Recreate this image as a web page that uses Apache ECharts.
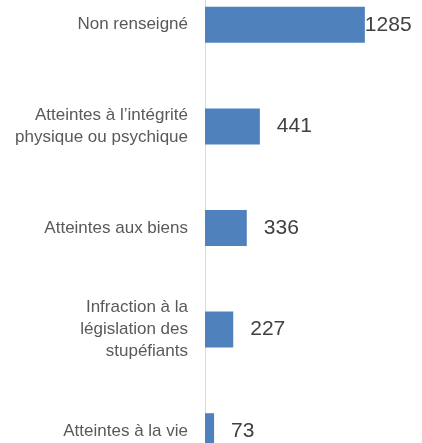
<!DOCTYPE html>
<html>
<head>
<meta charset="utf-8">
<script src="https://cdn.jsdelivr.net/npm/echarts@6/dist/echarts.min.js"></script>
<style>
  html, body { margin: 0; padding: 0; background: #fff; }
  #chart { width: 422px; height: 443px; }
</style>
</head>
<body>
<div id="chart"></div>
<script>
// catégories, de haut en bas
var categories = [
  'Non renseigné',
  'Atteintes à l’intégrité\nphysique ou psychique',
  'Atteintes aux biens',
  'Infraction à la\nlégislation des\nstupéfiants',
  'Atteintes à la vie'
]
var values = [1285, 441, 336, 227, 73]

var xMax = 1680
var gridLeft = 205
var gridWidth = 209

var chart = echarts.init(document.getElementById('chart'))

// le plus grand libellé est collé à la barre pour rester dans le cadre
var seriesData = values.map(function (v) {
  var end = gridLeft + v * gridWidth / xMax
  var item = { value: v }
  if (end + 17 + 48 > 422) {
    item.label = { distance: 0 }
  }
  return item
})

chart.setOption({
  animation: false,
  grid: {
    left: gridLeft,
    width: gridWidth,
    top: -26,
    height: 508,
    outerBoundsMode: 'none'
  },
  xAxis: {
    type: 'value',
    min: 0,
    max: xMax,
    show: false,
    splitLine: { show: false }
  },
  yAxis: {
    type: 'category',
    inverse: true,
    data: categories,
    axisLine: { show: true, lineStyle: { color: '#d9d9d9', width: 1 } },
    axisTick: { show: false },
    axisLabel: {
      margin: 17,
      color: '#595959',
      fontFamily: 'Liberation Sans',
      fontSize: 17,
      lineHeight: 22,
      align: 'right'
    }
  },
  series: [
    {
      type: 'bar',
      data: seriesData,
      barWidth: 36,
      itemStyle: { color: '#4f81bd' },
      label: {
        show: true,
        position: 'right',
        distance: 17,
        color: '#404040',
        fontFamily: 'Liberation Sans',
        fontSize: 21
      }
    }
  ]
})
</script>
</body>
</html>
